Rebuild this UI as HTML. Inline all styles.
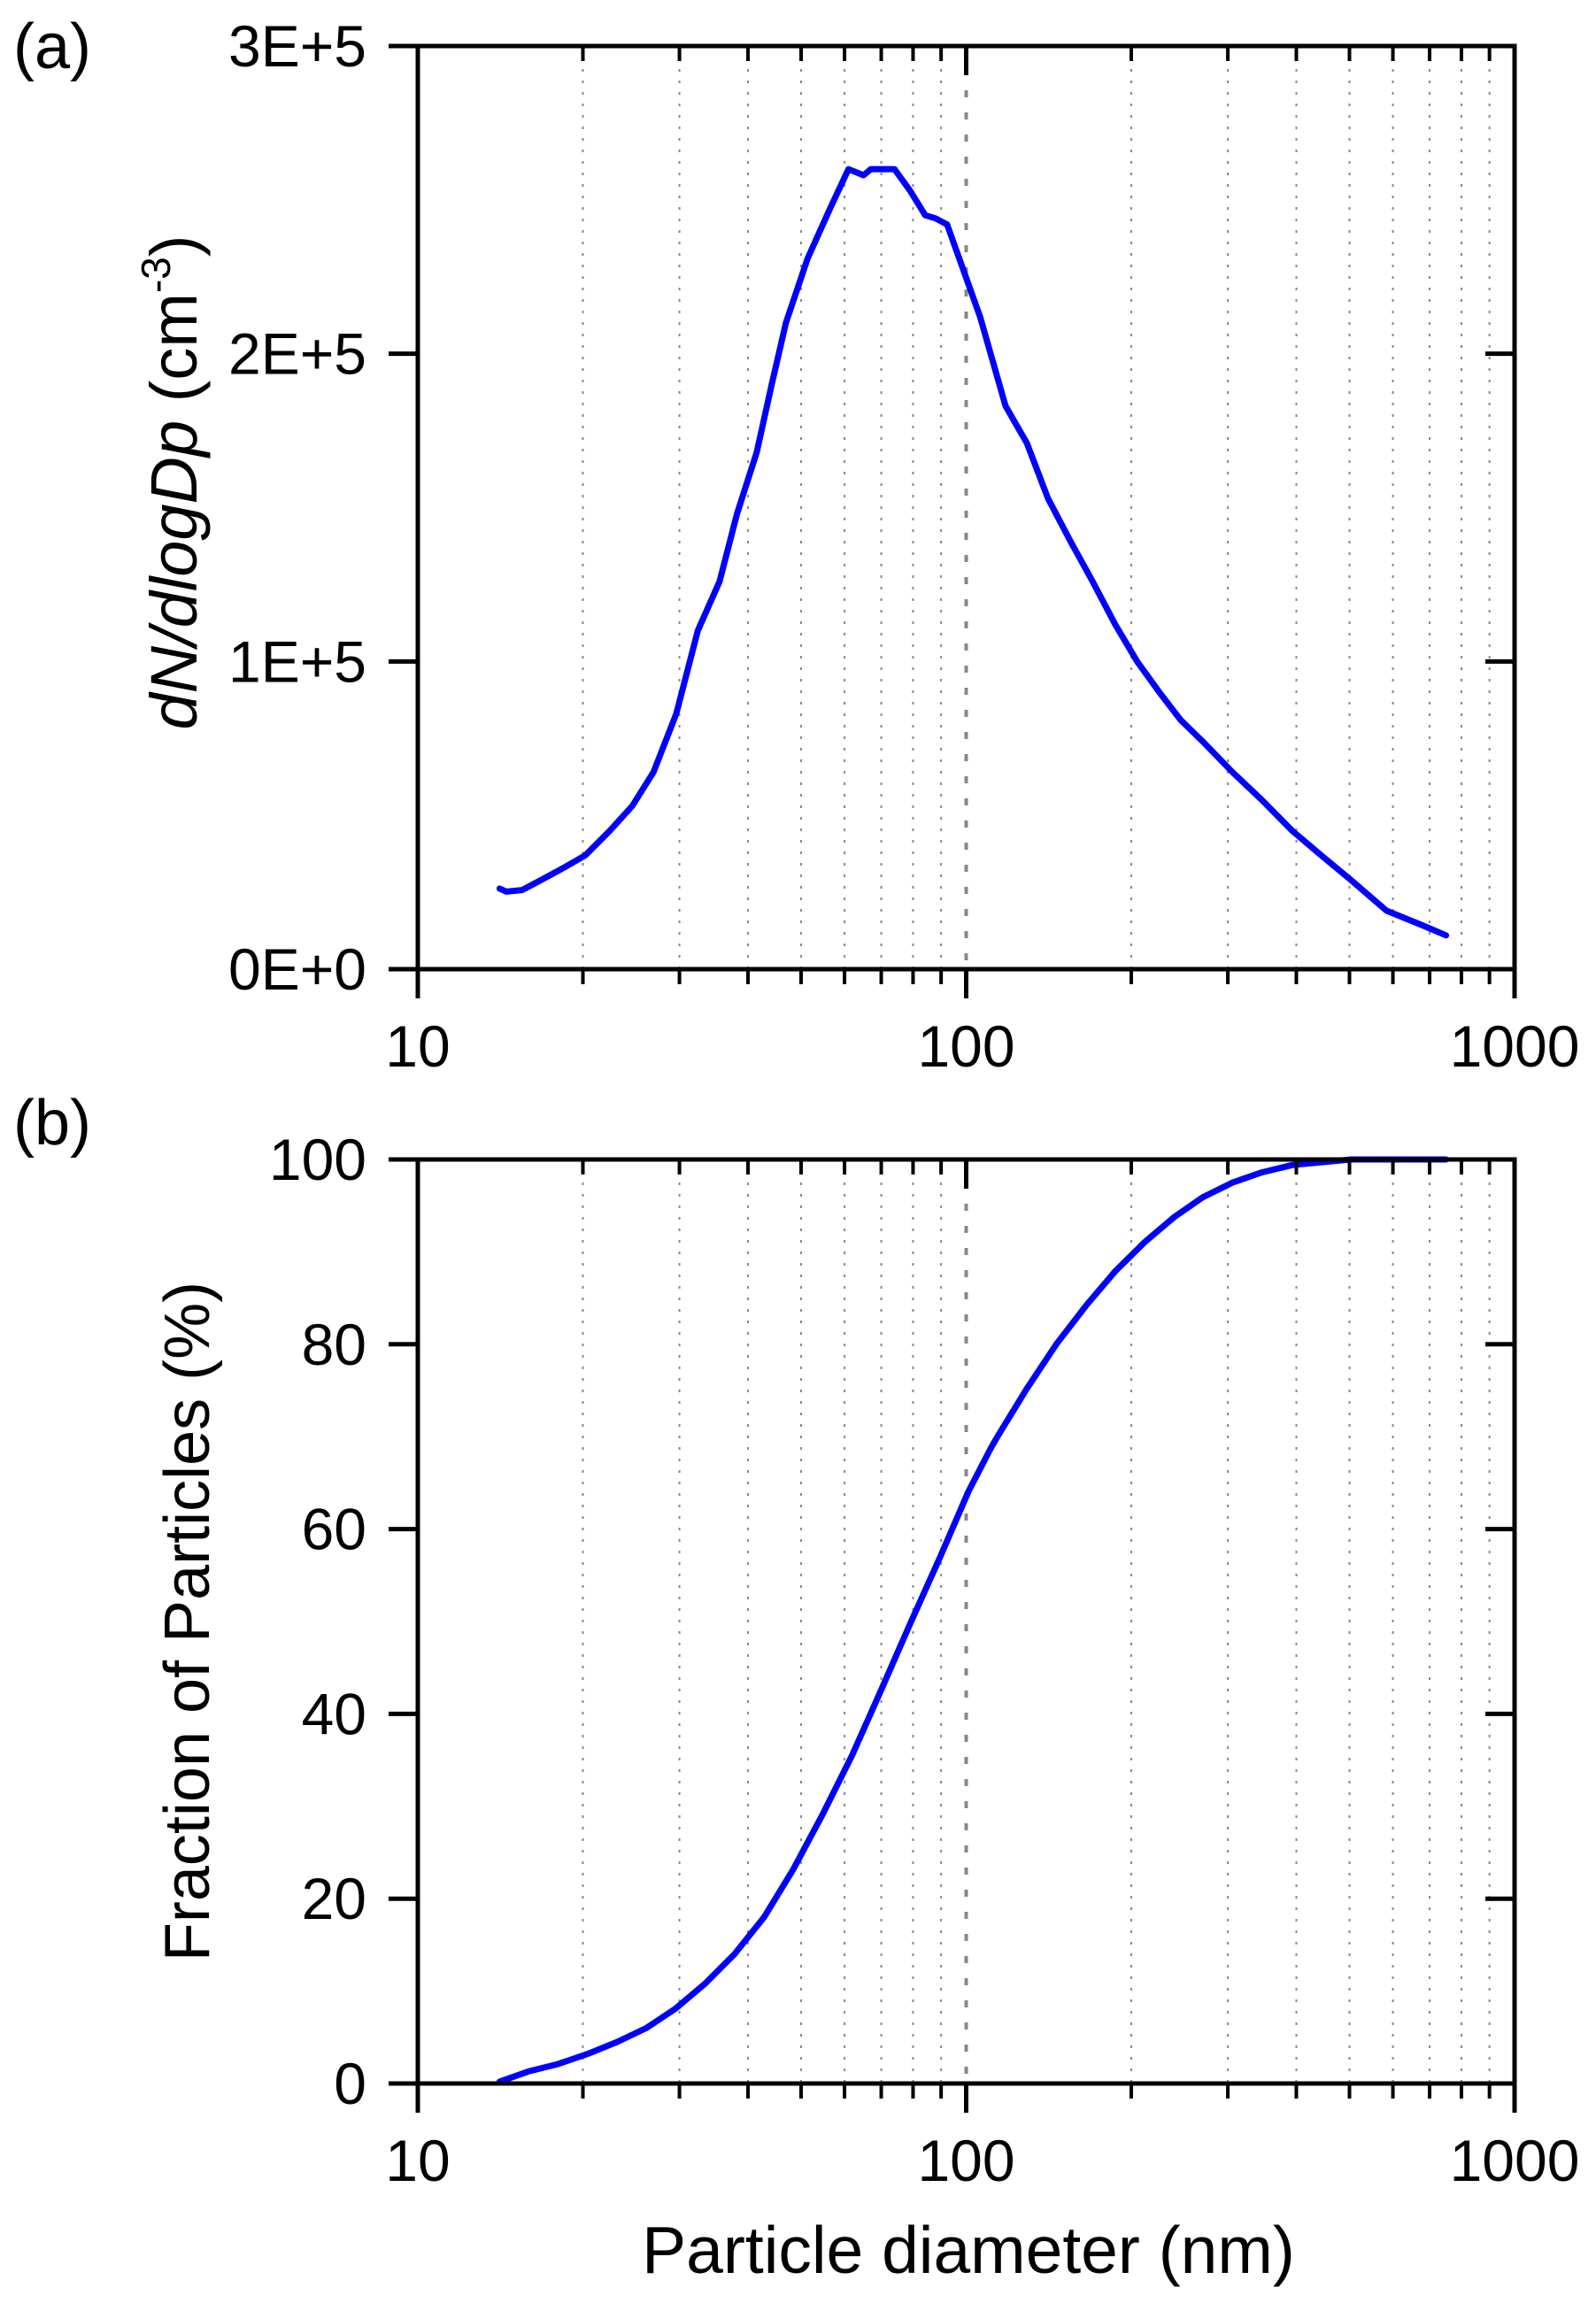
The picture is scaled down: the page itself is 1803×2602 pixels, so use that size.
<!DOCTYPE html>
<html><head><meta charset="utf-8">
<style>
html,body{margin:0;padding:0;background:#fff;}
svg{display:block;font-family:"Liberation Sans",Arial,sans-serif;}
</style></head>
<body>
<svg id="chart" width="1803" height="2602" viewBox="0 0 1803 2602" xmlns="http://www.w3.org/2000/svg">
<rect width="1803" height="2602" fill="#fff"/>
<g id="pa"></g>
<g id="pb"></g>
<text x="15" y="77" font-size="72">(a)</text>
<text x="15" y="1293" font-size="72">(b)</text>
<text transform="translate(222,545) rotate(-90)" text-anchor="middle" font-size="74"><tspan font-style="italic">dN/dlogDp</tspan> (cm<tspan font-size="46" dy="-30">-3</tspan><tspan dy="30">)</tspan></text>
<text transform="translate(236,1832) rotate(-90)" text-anchor="middle" font-size="72">Fraction of Particles (%)</text>
<text x="1094" y="2568" text-anchor="middle" font-size="75">Particle diameter (nm)</text>
</svg>
<script>
const diamA = [14.1,14.5,15.5,17.0,18.6,20.2,22.4,24.6,26.9,29.6,32.4,35.5,38.2,41.5,44.2,46.9,51.4,56.4,61.0,65.0,67,72,74,79,84.2,87.9,92.3,98,106,118,129,141,155,170,187,205,225,246,270,306,346,393,444,503,584,684,750];
const dndlogdp = [26200,25200,25700,29500,33300,37000,45000,53000,64000,83000,110000,126000,148000,168000,190000,210000,231000,247000,260000,258000,260000,260000,260000,253000,245000,244000,242000,229000,212000,183000,171000,153000,139000,126000,112000,100000,90000,81000,74000,64000,55000,45000,37000,29000,19000,14000,11000];
const diamB = [14.1,15.9,18,20.4,23.1,26.1,29.5,33.4,37.8,42.8,48.3,54.7,61.9,70,79.1,89.5,101,111,114,129,146,166,187,212,240,270,306,346,393,503,640,750];
const fraction = [0.2,1.3,2.1,3.2,4.5,6.0,8.1,10.8,14.0,18.0,23.1,29.1,35.5,42.6,49.8,56.9,64.1,68.8,70,75.2,80,84.3,87.9,91.1,93.8,95.9,97.5,98.6,99.4,100,100,100];
const yTicksA = [0,100000,200000,300000];
const yTickLabelsA = ["0E+0","1E+5","2E+5","3E+5"];
const yTicksB = [0,20,40,60,80,100];
const yTickLabelsB = ["0","20","40","60","80","100"];
const xMajor = [10,100,1000];
const xMajorLabels = ["10","100","1000"];
const xMinor = [20,30,40,50,60,70,80,90,200,300,400,500,600,700,800,900];

const NS="http://www.w3.org/2000/svg";
const L=472,R=1711;
function xs(d){return L+(Math.log10(d)-1)/2*(R-L);}
function mk(parent,tag,attrs){const e=document.createElementNS(NS,tag);for(const k in attrs)e.setAttribute(k,attrs[k]);parent.appendChild(e);return e;}

function panel(g,top,bot,ymax,ticks,labels,xsArr,ysArr,nm){
  const ys=v=>bot-(v/ymax)*(bot-top);
  xMinor.forEach(d=>{
    const l=mk(g,'line',{x1:xs(d),x2:xs(d),y1:top,y2:bot,stroke:'#888','stroke-width':2,'stroke-dasharray':'3 10'});
    
    
  });
  const g100=mk(g,'line',{x1:xs(100),x2:xs(100),y1:top,y2:bot,stroke:'#888','stroke-width':4,'stroke-dasharray':'8 17'});
  
  
  let d='';
  xsArr.forEach((x,i)=>{d+=(i?'L':'M')+xs(x).toFixed(1)+' '+ys(ysArr[i]).toFixed(1);});
  const p=mk(g,'path',{d:d,fill:'none',stroke:'#0000ff','stroke-width':7,'stroke-linejoin':'round','stroke-linecap':'round'});
  
  
  const fr=mk(g,'rect',{x:L,y:top,width:R-L,height:bot-top,fill:'none',stroke:'#000','stroke-width':5});
  
  
  ticks.forEach((v,i)=>{
    const y=ys(v);
    mk(g,'line',{x1:L-33,x2:L,y1:y,y2:y,stroke:'#000','stroke-width':5});
    mk(g,'line',{x1:R-33,x2:R,y1:y,y2:y,stroke:'#000','stroke-width':5});
    const t=mk(g,'text',{x:L-58,y:y+23,'text-anchor':'end','font-size':66});
    t.textContent=labels[i];
    
    
  });
  xMajor.forEach((v,i)=>{
    const x=xs(v);
    mk(g,'line',{x1:x,x2:x,y1:bot,y2:bot+33,stroke:'#000','stroke-width':5});
    mk(g,'line',{x1:x,x2:x,y1:top,y2:top+33,stroke:'#000','stroke-width':5});
    const t=mk(g,'text',{x:x,y:bot+110,'text-anchor':'middle','font-size':66});
    t.textContent=xMajorLabels[i];
    
    
  });
  xMinor.forEach(v=>{
    const x=xs(v);
    mk(g,'line',{x1:x,x2:x,y1:bot,y2:bot+17,stroke:'#000','stroke-width':4});
    mk(g,'line',{x1:x,x2:x,y1:top,y2:top+17,stroke:'#000','stroke-width':4});
  });
}
panel(document.getElementById('pa'),52,1095,300000,yTicksA,yTickLabelsA,diamA,dndlogdp,'panel-a');
panel(document.getElementById('pb'),1310,2354,100,yTicksB,yTickLabelsB,diamB,fraction,'panel-b');
</script>
</body></html>
